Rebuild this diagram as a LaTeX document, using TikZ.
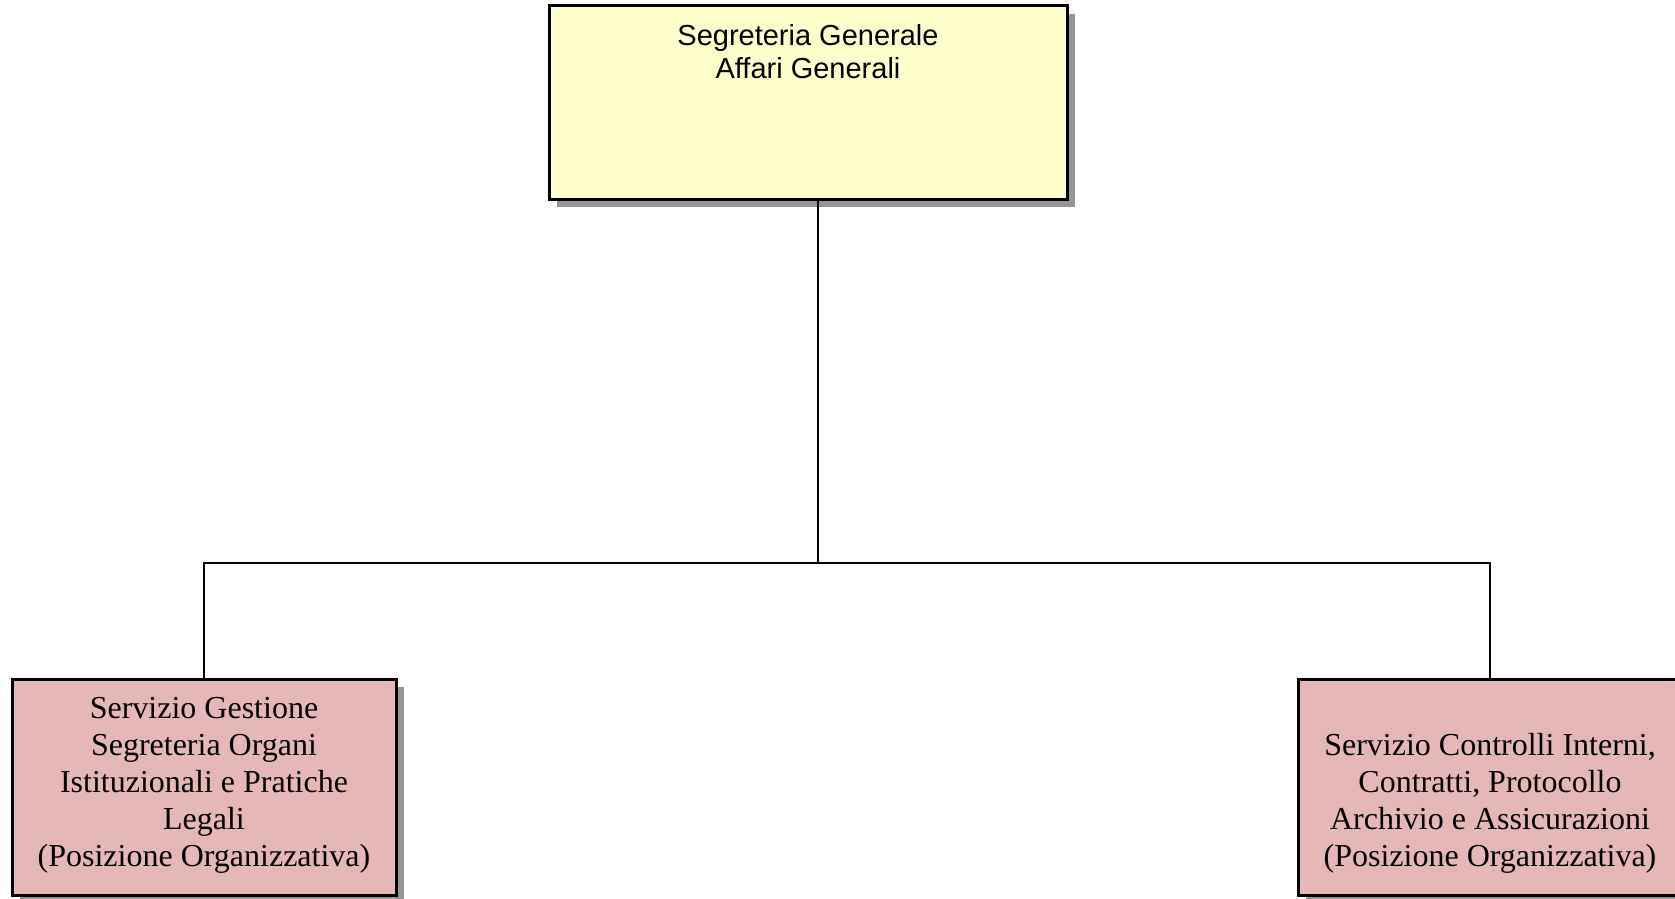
\documentclass[tikz,border=0pt]{standalone}
\usepackage{fontspec}
\setmainfont{Liberation Serif}
\newfontfamily\arialfont{Liberation Sans}
\usepackage{tikz}
\usetikzlibrary{positioning, shadows}
\definecolor{boxyellow}{RGB}{255,255,204}
\definecolor{boxpink}{RGB}{229,184,183}
\definecolor{shadowgray}{RGB}{150,150,150}

\begin{document}
\begin{tikzpicture}[x=1pt, y=1pt,
  box/.style = {draw, line width=3pt, inner sep=0pt,
    drop shadow={shadow xshift=8pt, shadow yshift=-8pt, fill=shadowgray, opacity=1}},
  headbox/.style = {box, fill=boxyellow, minimum width=518pt, minimum height=193pt},
  unitbox/.style = {box, fill=boxpink, minimum width=384pt, minimum height=216pt},
  headtext/.style = {inner sep=0pt, align=center, font=\arialfont\fontsize{29}{33}\selectfont},
  unittext/.style = {inner sep=0pt, align=center, font=\fontsize{32}{37}\selectfont},
  link/.style = {line width=1.8pt}]
\useasboundingbox (0,0) rectangle (1675,-899);

\node[headbox] (seg) at (808,-102.5) {};
\node[unitbox] (gest) at (204,-787) {};
\node[unitbox] (contr) at (1490,-787) {};

\node[headtext, below=20pt of seg.north] (segt) {Segreteria Generale\\Affari Generali};
\node[unittext, above=23pt of gest.south] (gestt) {Servizio Gestione\\Segreteria Organi\\Istituzionali e Pratiche\\Legali\\(Posizione Organizzativa)};
\node[unittext, above=23pt of contr.south] (contrt) {Servizio Controlli Interni,\\Contratti, Protocollo\\Archivio e Assicurazioni\\(Posizione Organizzativa)};

\coordinate (bus) at (818,-563);
\draw[link] (seg.south -| bus) -- (bus);
\draw[link] (gest.north) |- (bus) -| (contr.north);
\end{tikzpicture}
\end{document}
